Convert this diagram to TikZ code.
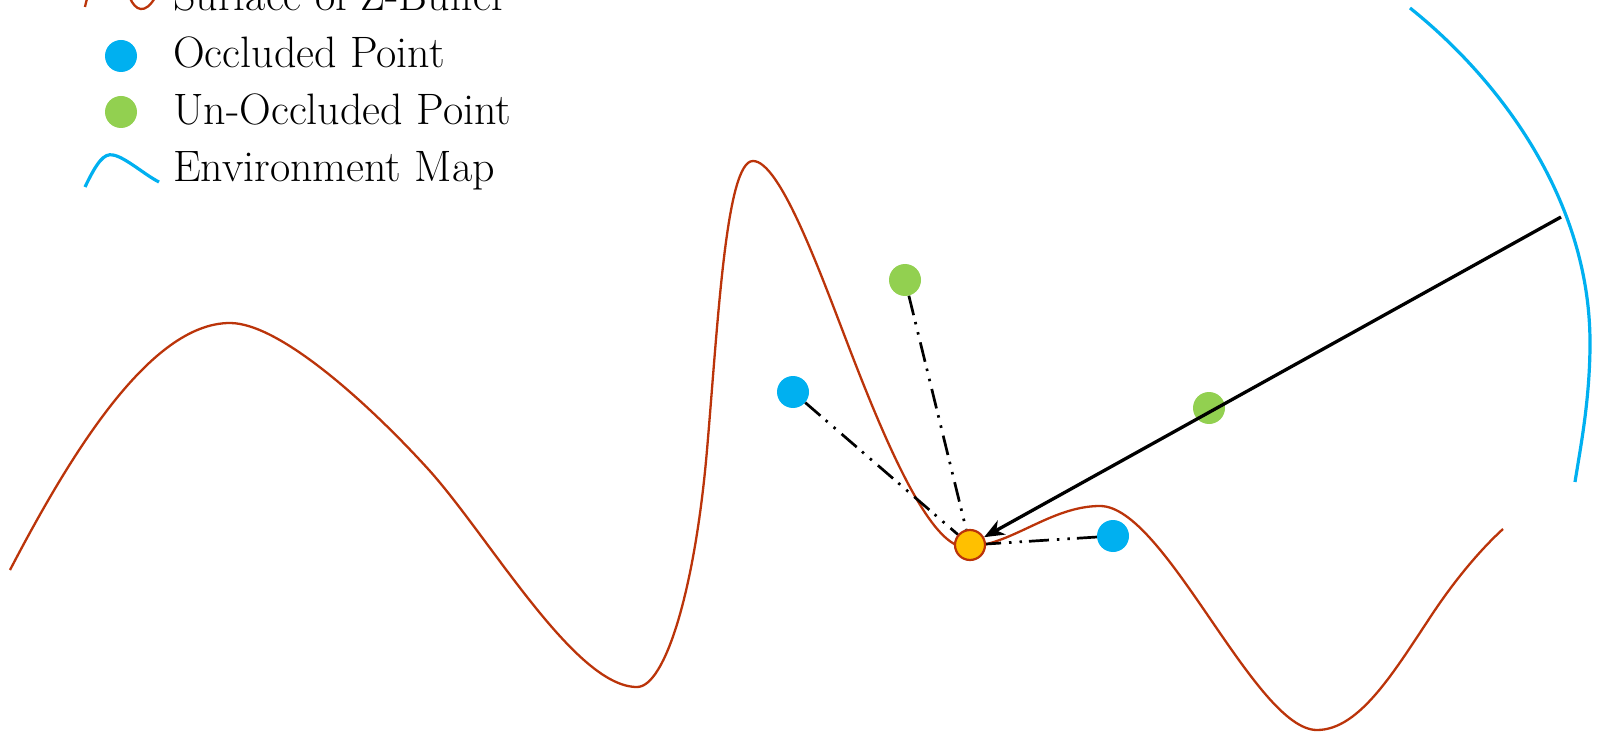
\documentclass[tikz,border=0pt]{standalone}
\usepackage{fontspec}
\usetikzlibrary{arrows.meta}
\definecolor{zred}{RGB}{187,52,10}
\definecolor{envblue}{RGB}{0,176,240}
\definecolor{ptgreen}{RGB}{146,208,80}
\definecolor{ptorange}{RGB}{255,192,0}
\tikzset{
  surf/.style={draw=zred, line width=2.3pt, line join=round},
  envmap/.style={draw=envblue, line width=3.2pt},
  pt/.style={circle, inner sep=0pt, minimum size=32pt},
  occl/.style={pt, fill=envblue},
  unoccl/.style={pt, fill=ptgreen},
  target/.style={pt, fill=ptorange, draw=zred, line width=2.2pt, minimum size=30pt},
  ray/.style={line width=2.7pt, dash pattern=on 20pt off 7pt on 2.5pt off 8pt on 2.5pt off 8pt},
  lightray/.style={line width=3.3pt, -{Stealth[length=20pt,width=16pt,inset=6pt]}},
  legend/.style={anchor=base west, inner sep=0pt, font=\fontsize{44}{52}\selectfont}
}
\begin{document}
\begin{tikzpicture}[x=1pt,y=-1pt]
\useasboundingbox (0,0) rectangle (1601,735);

% legend
\draw[surf] (85,7) .. controls (92,-30) and (120,-25) .. (130,-2) .. controls (135,10) and (145,16) .. (156,-4);
\node[legend] (lsurf) at (173,11) {Surface of Z-Buffer};
\node[occl] (locc) at (121,56) {};
\node[legend] (locct) at (173,68) {Occluded Point};
\node[unoccl] (lun) at (121,112) {};
\node[legend] (lunt) at (173,125) {Un-Occluded Point};
\draw[envmap] (85,187) .. controls (97,162) and (104,153) .. (113,155) .. controls (125,157) and (145,175) .. (159,182);
\node[legend] (lenv) at (173,182) {Environment Map};

% surface of z-buffer
\draw[surf] (10,570) .. controls (70,455) and (150,323) .. (230,323)
  .. controls (280,323) and (370,405) .. (429,470)
  .. controls (490,538) and (575,687) .. (637,687)
  .. controls (665,687) and (695,590) .. (707,450)
  .. controls (718,322) and (726,161) .. (753,161)
  .. controls (780,161) and (820,272) .. (850,350)
  .. controls (885,441) and (930,547) .. (965,547)
  .. controls (1010,547) and (1050,506) .. (1100,506)
  .. controls (1165,506) and (1255,730) .. (1317,730)
  .. controls (1360,730) and (1395,670) .. (1433,613)
  .. controls (1455,580) and (1480,550) .. (1503,529);

% environment map
\draw[envmap] (1410,8) .. controls (1500,80) and (1590,200) .. (1590,343)
  .. controls (1590,400) and (1580,450) .. (1575,482);

% points
\node[target] (p) at (970,545) {};
\node[unoccl] (g1) at (905,280) {};
\node[occl] (b1) at (793,392) {};
\node[occl] (b2) at (1113,536) {};
\node[unoccl] (g2) at (1209,408) {};
\coordinate (src) at (1561,217);

\draw[ray] (g1) -- (p);
\draw[ray] (b1) -- (p);
\draw[ray] (b2) -- (p);
\draw[lightray] (src) -- (p);
\end{tikzpicture}
\end{document}
